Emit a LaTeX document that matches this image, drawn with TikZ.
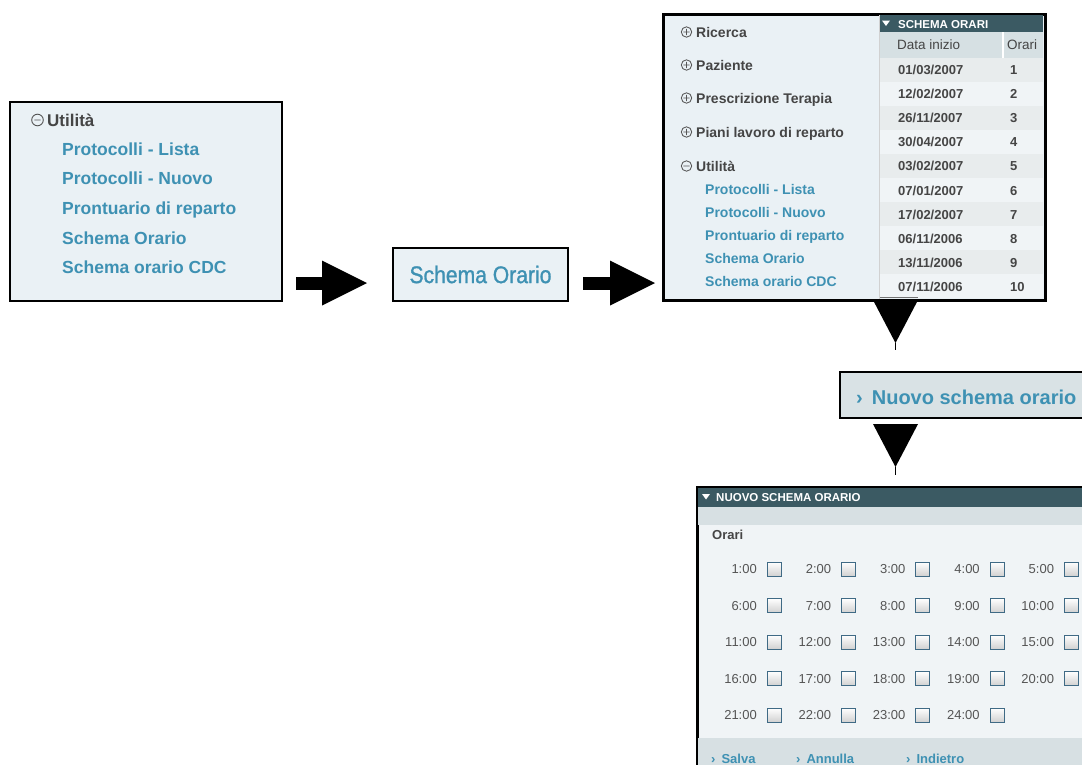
\documentclass[tikz,border=0pt]{standalone}
\usepackage{fontspec}
\setmainfont{Liberation Sans}
\newfontfamily\condfont[FakeStretch=0.88,FakeBold=1.1]{Liberation Sans}
\usetikzlibrary{arrows.meta}
\definecolor{linkteal}{HTML}{3E91B3}
\definecolor{darktext}{HTML}{454545}
\definecolor{hourtext}{HTML}{555555}
\definecolor{panelbg}{HTML}{EAF1F5}
\definecolor{hdr}{HTML}{3B5A63}
\definecolor{hdrrow}{HTML}{D6E0E3}
\definecolor{rowa}{HTML}{E8ECED}
\definecolor{rowb}{HTML}{F0F4F6}
\definecolor{btnbg}{HTML}{D9E2E5}
\definecolor{formbg}{HTML}{F0F4F6}
\definecolor{band}{HTML}{D7E0E3}
\definecolor{chkborder}{HTML}{3F6A85}
\definecolor{iconcol}{HTML}{555555}
\newcommand\fsz[1]{\fontsize{#1}{#1}\selectfont}
\begin{document}
\begin{tikzpicture}[x=1pt,y=-1pt,
  panel/.style={draw=black, line width=2pt, anchor=north west, inner sep=0pt},
  txt/.style={anchor=base west, inner sep=0pt},
  bigitem/.style={txt, text=linkteal, font=\bfseries\fsz{17.5}},
  menuhead/.style={txt, text=darktext, font=\bfseries\fsz{14}},
  menuitem/.style={txt, text=linkteal, font=\bfseries\fsz{14}},
  hdrtext/.style={txt, text=white, font=\bfseries\fsz{11.5}},
  cell/.style={txt, text=darktext, font=\bfseries\fsz{13}},
  hour/.style={anchor=base east, inner sep=0pt, text=hourtext, font=\fsz{13}},
  chk/.style={draw=chkborder, line width=1pt, minimum size=14pt, inner sep=0pt,
    top color=white, bottom color=black!18},
  icon/.style={draw=iconcol, line width=0.9pt},
  bigarrow/.style={line width=13pt, -{Triangle[length=45pt,width=45pt,line width=0pt]}},
  droptip/.style={fill=black},
  stem/.style={line width=1.3pt}]
\useasboundingbox (0,0) rectangle (1082,764);
\clip (0,0) rectangle (1082,764);

% ---------- menu group "Utilità" ----------
\node[panel, fill=panelbg, minimum width=272pt, minimum height=199pt] (p1) at (9,101) {};
\draw[icon] (37.5,120) circle[radius=5.8] (34.3,120) -- (40.7,120);
\node[txt, text=darktext, font=\bfseries\fsz{17}] (u1) at (47,126.2) {Utilità};
\node[bigitem] (l1) at (62,155.3) {Protocolli - Lista};
\node[bigitem] (l2) at (62,184.3) {Protocolli - Nuovo};
\node[bigitem] (l3) at (62,214.3) {Prontuario di reparto};
\node[bigitem] (l4) at (62,244.3) {Schema Orario};
\node[bigitem] (l5) at (62,273.3) {Schema orario CDC};

% ---------- selected entry ----------
\node[panel, fill=panelbg, minimum width=175pt, minimum height=53pt,
      text=linkteal, font=\condfont\fsz{24}] (p2) at (392,247) {Schema Orario};

% ---------- horizontal arrows ----------
\coordinate (a1s) at (296,283);
\coordinate (a1e) at (367,283);
\coordinate (a2s) at (583,283);
\coordinate (a2e) at (655,283);
\draw[bigarrow] (a1s) -- (a1e);
\draw[bigarrow] (a2s) -- (a2e);

% ---------- menu + schedule list ----------
\node[panel, fill=panelbg, minimum width=381pt, minimum height=285pt] (p3) at (663,14) {};
\draw[draw=black!18, line width=1pt] (879,14) -- (879,299);
\fill[hdr] (880,14) rectangle (1043,32);
\fill[hdrrow] (880,32) rectangle (1043,58);
\draw[white, line width=1.5pt] (1003,32) -- (1003,58);
\foreach \i in {0,...,9}{
  \pgfmathsetmacro\yt{58+24*\i}
  \pgfmathtruncatemacro\odd{mod(\i,2)}
  \ifnum\odd=0 \fill[rowa] (880,\yt) rectangle (1043,\yt+24);
  \else \fill[rowb] (880,\yt) rectangle (1043,\yt+24); \fi
}
\fill[white] (882,20.5) -- (890,20.5) -- (886,26) -- cycle;
\node[hdrtext] (th) at (898,28.1) {SCHEMA ORARI};
\node[txt, text=darktext, font=\fsz{13.5}] (c1) at (897,49.9) {Data inizio};
\node[txt, text=darktext, font=\fsz{13.5}] (c2) at (1007,49.9) {Orari};
\foreach \d [count=\n from 0] in {01/03/2007,12/02/2007,26/11/2007,30/04/2007,03/02/2007,
                                  07/01/2007,17/02/2007,06/11/2006,13/11/2006,07/11/2006}{
  \pgfmathsetmacro\yb{74.7+24.07*\n}
  \pgfmathtruncatemacro\k{\n+1}
  \node[cell] (d\k) at (898,\yb) {\d};
  \node[cell] (o\k) at (1010,\yb) {\k};
}
% menu entries
\foreach \t/\yc [count=\n] in {Ricerca/32, Paziente/65, Prescrizione Terapia/98, Piani lavoro di reparto/132}{
  \draw[icon, line width=0.85pt] (686.5,\yc) circle[radius=5.2] (683.3,\yc) -- (689.7,\yc) (686.5,\yc-3.2) -- (686.5,\yc+3.2);
  \node[menuhead] (m\n) at (696,\yc+5) {\t};
}
\draw[icon, line width=0.85pt] (686.5,166) circle[radius=5.2] (683.3,166) -- (689.7,166);
\node[menuhead] (m5) at (696,171) {Utilità};
\node[menuitem] (s1) at (705,194) {Protocolli - Lista};
\node[menuitem] (s2) at (705,217) {Protocolli - Nuovo};
\node[menuitem] (s3) at (705,240) {Prontuario di reparto};
\node[menuitem] (s4) at (705,263) {Schema Orario};
\node[menuitem] (s5) at (705,286) {Schema orario CDC};
\draw[black!55, line width=1pt] (880,297.5) -- (918,297.5);
\draw[line width=2pt] (p3.north west) rectangle (p3.south east);

% ---------- downward arrows ----------
\coordinate (t1) at (895.5,343);
\coordinate (e1) at (895.5,350);
\fill[droptip] (873,300) -- (918,300) -- (t1) -- cycle;
\draw[stem] (t1) -- (e1);

% ---------- "new schedule" button ----------
\node[panel, fill=btnbg, minimum width=300pt, minimum height=46pt] (p4) at (839,371) {};
\node[txt, text=linkteal, font=\bfseries\fsz{20}] (b4) at (856,404.2) {›\hspace{9pt}Nuovo schema orario};

\coordinate (t2) at (895.5,467);
\coordinate (e2) at (895.5,475);
\fill[droptip] (873,424) -- (918,424) -- (t2) -- cycle;
\draw[stem] (t2) -- (e2);

% ---------- new schedule form ----------
\node[panel, fill=formbg, minimum width=450pt, minimum height=350pt] (p5) at (697,487) {};
\fill[hdr] (698,488) rectangle (1100,507);
\fill[band] (698,507) rectangle (1100,525);
\fill[band] (698,738) rectangle (1100,800);
\fill[white] (702,494) -- (710,494) -- (706,499.5) -- cycle;
\node[hdrtext] (fh) at (716,501.1) {NUOVO SCHEMA ORARIO};
\node[txt, text=darktext, font=\bfseries\fsz{13}] (fo) at (712,539.7) {Orari};
\foreach \h in {1,...,24}{
  \pgfmathtruncatemacro\r{(\h-1)/5}
  \pgfmathtruncatemacro\c{\h-1-5*\r}
  \pgfmathsetmacro\yy{569+36.5*\r}
  \pgfmathsetmacro\xl{757+74.3*\c}
  \pgfmathsetmacro\xb{774.5+74.2*\c}
  \node[hour] (h\h) at (\xl,\yy+4.7) {\h:00};
  \node[chk] (cb\h) at (\xb,\yy) {};
}
\node[txt, text=linkteal, font=\bfseries\fsz{13}] (f1) at (711,763) {›\hspace{6pt}Salva};
\node[txt, text=linkteal, font=\bfseries\fsz{13}] (f2) at (796,763) {›\hspace{6pt}Annulla};
\node[txt, text=linkteal, font=\bfseries\fsz{13}] (f3) at (906,763) {›\hspace{6pt}Indietro};
\draw[line width=2pt] (p5.north west) rectangle (p5.south east);
\end{tikzpicture}
\end{document}
